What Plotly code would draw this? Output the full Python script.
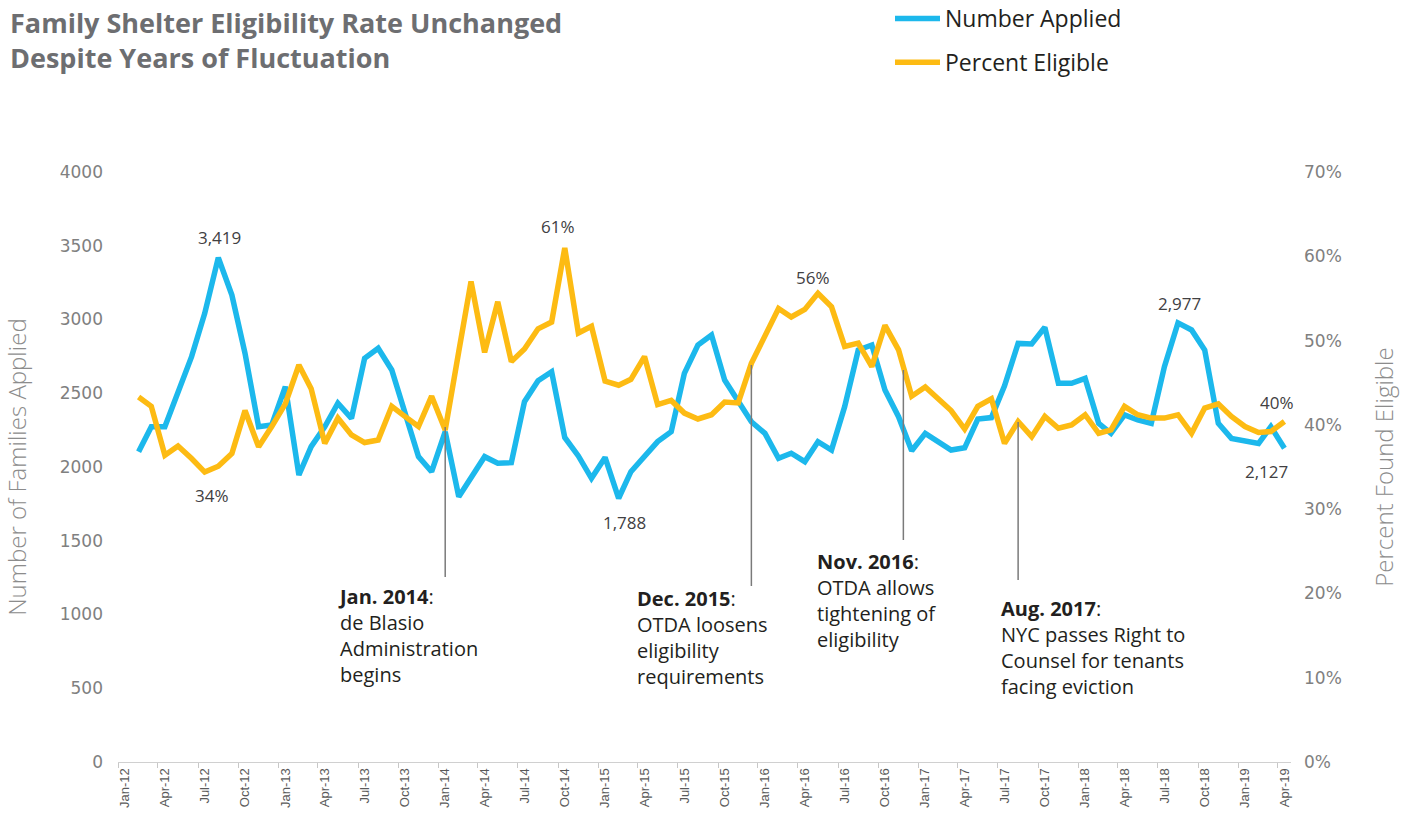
import pandas as pd
import plotly.graph_objects as go

# ---------------- data ----------------
months = pd.date_range("2012-02-01", "2019-04-01", freq="MS")

number_applied = [
    2104, 2273, 2273, 2500, 2748, 3042, 3419, 3166, 2771, 2273,
    2285, 2545, 1946, 2138, 2273, 2432, 2330, 2737, 2805, 2658,
    2364, 2070, 1968, 2239, 1799, 1923, 2070, 2025, 2030, 2443,
    2585, 2646, 2200, 2075, 1923, 2065, 1788, 1968, 2070, 2172,
    2239, 2635, 2827, 2895, 2590, 2443, 2307, 2228, 2059, 2093,
    2036, 2172, 2115, 2409, 2793, 2827, 2522, 2341, 2110, 2228,
    2172, 2115, 2130, 2325, 2335, 2550, 2838, 2834, 2947, 2567,
    2567, 2601, 2296, 2228, 2353, 2319, 2296, 2680, 2977, 2929,
    2793, 2296, 2194, 2178, 2160, 2273, 2127,
]

percent_eligible = [
    43.3, 42.2, 36.4, 37.5, 36.0, 34.4, 35.1, 36.6, 41.7, 37.4,
    39.8, 42.5, 47.1, 44.3, 37.8, 40.8, 38.8, 37.9, 38.2, 42.2,
    41.0, 39.8, 43.4, 39.4, 48.7, 57.0, 48.6, 54.6, 47.5, 49.0,
    51.4, 52.2, 61.0, 50.9, 51.7, 45.2, 44.7, 45.4, 48.1, 42.4,
    42.9, 41.4, 40.7, 41.2, 42.7, 42.6, 47.3, 50.7, 53.8, 52.8,
    53.7, 55.6, 54.0, 49.3, 49.7, 46.9, 51.8, 48.9, 43.4, 44.5,
    43.1, 41.7, 39.5, 42.2, 43.1, 37.8, 40.4, 38.6, 41.0, 39.6,
    40.0, 41.2, 39.0, 39.4, 42.2, 41.2, 40.8, 40.8, 41.2, 39.0,
    42.0, 42.5, 41.0, 39.8, 39.1, 39.2, 40.4,
]

tick_dates = pd.date_range("2012-01-01", "2019-04-01", freq="3MS")
tick_labels = [d.strftime("%b-%y") for d in tick_dates]

# highlighted values: (month, series, label)
callouts = [
    ("2012-08-01", "applied", "3,419"),
    ("2012-07-01", "eligible", "34%"),
    ("2014-10-01", "eligible", "61%"),
    ("2015-02-01", "applied", "1,788"),
    ("2016-05-01", "eligible", "56%"),
    ("2018-08-01", "applied", "2,977"),
    ("2019-04-01", "eligible", "40%"),
    ("2019-04-01", "applied", "2,127"),
]
callout_offsets = [(1, 20), (7, -23), (-7, 21), (6, -24), (-5, 16), (2, 19), (-7, 19), (-18, -23)]

events = [
    ("2014-01-01", "Jan. 2014", ["de Blasio", "Administration", "begins"]),
    ("2015-12-01", "Dec. 2015", ["OTDA loosens", "eligibility", "requirements"]),
    ("2016-11-12", "Nov. 2016", ["OTDA allows", "tightening of", "eligibility"]),
    ("2017-08-01", "Aug. 2017", ["NYC passes Right to", "Counsel for tenants", "facing eviction"]),
]
# (line top px, line bottom px, text left px, text block centre px) in page pixels
event_layout = [
    (427, 577, 336, 635),
    (365, 586, 635, 637),
    (370, 540, 815, 600),
    (422, 580, 999, 647),
]

# ---------------- geometry helpers ----------------
W, H = 1408, 831
PL, PR, PT, PB = 118, 1291, 172, 762   # plot area in page pixels


def px_x(px):
    return (px - PL) / (PR - PL)


def px_y(py):
    return (PB - py) / (PB - PT)


BLUE = "#1CB8EC"
GOLD = "#FDBB13"

fig = go.Figure()
fig.add_trace(go.Scatter(
    x=months, y=number_applied, name="Number Applied", mode="lines",
    line=dict(color=BLUE, width=5.5), legendgroup="a", yaxis="y",
))
fig.add_trace(go.Scatter(
    x=months, y=percent_eligible, name="Percent Eligible", mode="lines",
    line=dict(color=GOLD, width=5.5), legendgroup="b", yaxis="y2",
))

annotations = []
# title
for txt, yc in [("Family Shelter Eligibility Rate Unchanged", 22),
                ("Despite Years of Fluctuation", 58)]:
    annotations.append(dict(
        text="<b>" + txt + "</b>", xref="paper", yref="paper",
        x=px_x(8), y=px_y(yc), xanchor="left", yanchor="middle", showarrow=False,
        font=dict(family="Open Sans", size=27, color="#6D6E71"),
    ))

# value callouts
for (m, series, label), (dx, dy) in zip(callouts, callout_offsets):
    i = list(months).index(pd.Timestamp(m))
    if series == "applied":
        yv, yr = number_applied[i], "y"
    else:
        yv, yr = percent_eligible[i], "y2"
    annotations.append(dict(
        text=label, x=months[i], y=yv, xref="x", yref=yr, showarrow=False,
        xshift=dx, yshift=dy, font=dict(family="Open Sans", size=17, color="#414042"),
    ))

shapes = []
for (d, head, lines), (ytop, ybot, tx, tyc) in zip(events, event_layout):
    shapes.append(dict(
        type="line", xref="x", yref="paper", x0=d, x1=d,
        y0=px_y(ytop), y1=px_y(ybot), line=dict(color="#7A7A7A", width=1.5),
    ))
    annotations.append(dict(
        text="<b>" + head + "</b>:<br>" + "<br>".join(lines),
        xref="paper", yref="paper", x=px_x(tx), y=px_y(tyc),
        xanchor="left", yanchor="middle", align="left", showarrow=False,
        font=dict(family="Open Sans", size=20, color="#231F20"),
    ))

tickfont = dict(family="DejaVu Sans", size=17, color="#808080")
titlefont = dict(family="Open Sans", size=24, color="#8C8C8C", weight=300)

fig.update_layout(
    width=W, height=H,
    margin=dict(l=PL, r=W - PR, t=PT, b=H - PB, autoexpand=False),
    paper_bgcolor="white", plot_bgcolor="white",
    showlegend=True,
    legend=dict(
        x=px_x(890), y=px_y(-3), xanchor="left", yanchor="top",
        font=dict(family="Open Sans", size=23, color="#231F20"),
        itemwidth=45, tracegroupgap=11, traceorder="grouped",
        bgcolor="rgba(0,0,0,0)",
    ),
    xaxis=dict(
        type="date", range=["2011-12-16", "2019-04-16"],
        tickmode="array", tickvals=tick_dates, ticktext=tick_labels,
        tickangle=-90, ticks="", showgrid=False, zeroline=False,
        showline=True, linecolor="#D0D0D0", linewidth=1,
        tickfont=dict(family="Liberation Sans", size=13, color="#595959"),
        minor=dict(ticks="outside", ticklen=5, tickcolor="#C8C8C8", tickwidth=1,
                   dtick="M3", tick0="2011-12-16", showgrid=False),
    ),
    yaxis=dict(
        range=[0, 4000], dtick=500, showgrid=False, zeroline=False, showline=False,
        tickfont=tickfont, ticklabelstandoff=14,
        title=dict(text="Number of Families Applied", font=titlefont, standoff=38),
    ),
    yaxis2=dict(
        range=[0, 70], dtick=10, ticksuffix="%", overlaying="y", side="right",
        showgrid=False, zeroline=False, showline=False,
        tickfont=tickfont, ticklabelstandoff=12,
        title=dict(text="Percent Found Eligible", font=titlefont, standoff=35),
    ),
    annotations=annotations,
    shapes=shapes,
)

# remove the browser's default page margin so the figure fills the window exactly
fig.write_html(
    "out.html",
    config={"displayModeBar": False},
    post_script="document.body.style.margin='0';",
)
